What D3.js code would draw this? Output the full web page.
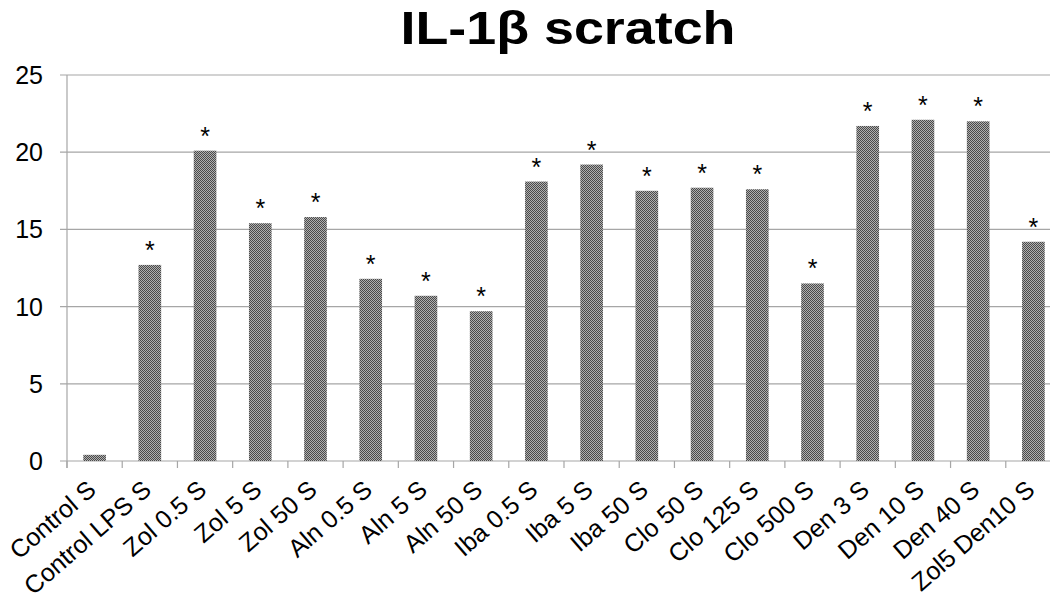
<!DOCTYPE html>
<html>
<head>
<meta charset="utf-8">
<script src="https://cdn.jsdelivr.net/npm/d3@7"></script>
<style>
  body { margin: 0; background: #fff; }
  svg { display: block; font-family: "Liberation Sans", Arial, sans-serif; }
</style>
</head>
<body>
<div id="chart"></div>
<script>
// data
const categories = ["Control S", "Control LPS S", "Zol 0.5 S", "Zol 5 S", "Zol 50 S",
  "Aln 0.5 S", "Aln 5 S", "Aln 50 S", "Iba 0.5 S", "Iba 5 S", "Iba 50 S",
  "Clo 50 S", "Clo 125 S", "Clo 500 S", "Den 3 S", "Den 10 S", "Den 40 S", "Zol5 Den10 S"];
const values = [0.4, 12.7, 20.1, 15.4, 15.8, 11.8, 10.7, 9.7, 18.1, 19.2, 17.5,
  17.7, 17.6, 11.5, 21.7, 22.1, 22.0, 14.2];
const significant = [false, true, true, true, true, true, true, true, true, true, true,
  true, true, true, true, true, true, true];
const yTicks = [0, 5, 10, 15, 20, 25];

const width = 1050, height = 600;
const margin = {top: 75, left: 67, bottom: 139};
const plotRight = 1061; // plot runs a bit past the picture edge

const svg = d3.select("#chart").append("svg")
  .attr("width", width)
  .attr("height", height);

// checker fill for the bars
const defs = svg.append("defs");
const pat = defs.append("pattern")
  .attr("id", "checker")
  .attr("width", 2).attr("height", 2)
  .attr("patternUnits", "userSpaceOnUse");
pat.append("rect").attr("width", 2).attr("height", 2).attr("fill", "#b0b0b0");
pat.append("rect").attr("width", 1).attr("height", 1).attr("fill", "#4a4a4a");
pat.append("rect").attr("x", 1).attr("y", 1).attr("width", 1).attr("height", 1).attr("fill", "#4a4a4a");

const x = d3.scaleBand()
  .domain(categories)
  .range([margin.left, plotRight])
  .paddingInner(0.59)
  .paddingOuter(0.295);

const y = d3.scaleLinear()
  .domain([0, 25])
  .range([height - margin.bottom, margin.top]);

// grid lines
svg.append("g")
  .selectAll("line")
  .data(yTicks)
  .join("line")
  .attr("x1", margin.left - 7)
  .attr("x2", width)
  .attr("y1", d => y(d))
  .attr("y2", d => y(d))
  .attr("stroke", "#a6a6a6")
  .attr("stroke-width", 1.2);

// y axis line
svg.append("line")
  .attr("x1", margin.left).attr("x2", margin.left)
  .attr("y1", y(25)).attr("y2", y(0) + 7)
  .attr("stroke", "#a6a6a6")
  .attr("stroke-width", 1.2);

// y tick labels
svg.append("g")
  .selectAll("text")
  .data(yTicks)
  .join("text")
  .attr("x", 43)
  .attr("y", d => y(d))
  .attr("dy", "0.36em")
  .attr("text-anchor", "end")
  .attr("font-size", 25)
  .attr("fill", "#000")
  .text(d => d);

// x ticks between categories
const step = x.step();
const tickPos = d3.range(categories.length + 1).map(i => margin.left + i * step);
svg.append("g")
  .selectAll("line")
  .data(tickPos)
  .join("line")
  .attr("x1", d => d).attr("x2", d => d)
  .attr("y1", y(0)).attr("y2", y(0) + 7)
  .attr("stroke", "#a6a6a6")
  .attr("stroke-width", 1.2);

// bars
svg.append("g")
  .selectAll("rect")
  .data(values)
  .join("rect")
  .attr("x", (d, i) => x(categories[i]))
  .attr("y", d => y(d))
  .attr("width", x.bandwidth())
  .attr("height", d => y(0) - y(d))
  .attr("fill", "url(#checker)");

// significance stars
const stars = categories
  .map((c, i) => ({cat: c, v: values[i], sig: significant[i]}))
  .filter(d => d.sig);
svg.append("g")
  .selectAll("text")
  .data(stars)
  .join("text")
  .attr("x", d => x(d.cat) + x.bandwidth() / 2)
  .attr("y", d => y(d.v) - 6)
  .attr("text-anchor", "middle")
  .attr("font-size", 25)
  .text("*");

// category labels, rotated
svg.append("g")
  .selectAll("text")
  .data(categories)
  .join("text")
  .attr("transform", d => `translate(${x(d) + x.bandwidth() / 2 + 3},${y(0) + 31}) rotate(-41)`)
  .attr("text-anchor", "end")
  .attr("font-size", 25)
  .text(d => d);

// title
svg.append("text")
  .attr("x", 568)
  .attr("y", 44)
  .attr("text-anchor", "middle")
  .attr("font-size", 47)
  .attr("font-weight", "bold")
  .attr("textLength", 335)
  .attr("lengthAdjust", "spacingAndGlyphs")
  .text("IL-1β scratch");
</script>
</body>
</html>
